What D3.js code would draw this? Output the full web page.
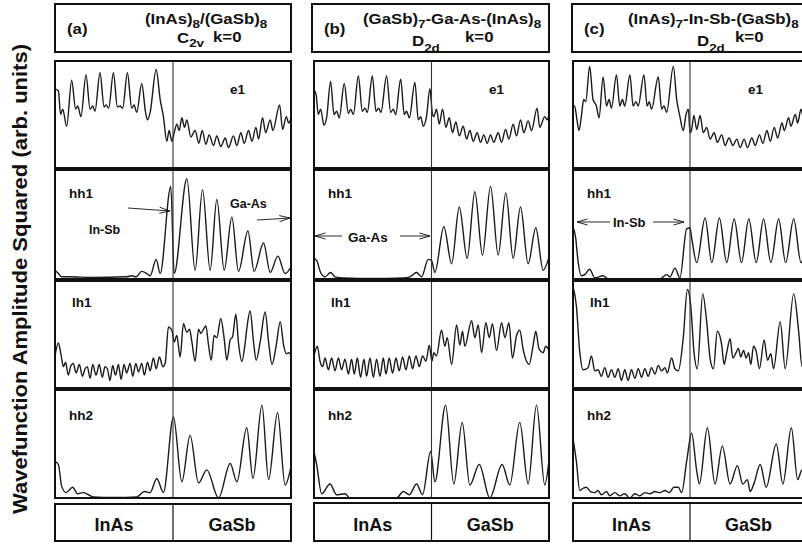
<!DOCTYPE html>
<html>
<head>
<meta charset="utf-8">
<script src="https://cdn.jsdelivr.net/npm/d3@7"></script>
<style>
  body { margin: 0; background: #fff; }
  text { font-family: "Liberation Sans", Arial, Helvetica, sans-serif; font-weight: bold; fill: #111; }
</style>
</head>
<body>
<svg id="chart" width="802" height="544"></svg>
<script>
// Squared envelope functions along one superlattice period.
// Each point: [position in monolayers (0-8 InAs, 8-16 GaSb), squared amplitude (arb.)]

// (a) (InAs)8/(GaSb)8, C2v
const aE1 = [[0,.74],[.23,.72],[.38,.50],[.52,.55],[.79,.39],[1.13,.82],[1.40,.55],[1.54,.58],[1.76,.48],[2.10,.87],[2.38,.55],[2.56,.58],[2.71,.53],[3.05,.89],[3.33,.57],[3.46,.59],[3.64,.56],[3.96,.89],[4.23,.57],[4.41,.58],[4.59,.56],[4.91,.89],[5.20,.56],[5.36,.59],[5.54,.52],[5.88,.79],[6.13,.53],[6.27,.45],[6.45,.52],[6.86,.92],[7.13,.64],[7.35,.48],[7.58,.25],[7.74,.35],[7.92,.25],[8.08,.33],[8.26,.41],[8.42,.35],[8.60,.47],[8.78,.38],[8.94,.45],[9.21,.29],[9.50,.35],[9.75,.23],[9.98,.35],[10.23,.22],[10.45,.31],[10.75,.21],[10.97,.30],[11.24,.20],[11.54,.28],[11.76,.19],[12.10,.30],[12.33,.21],[12.60,.33],[12.83,.23],[13.12,.35],[13.35,.25],[13.62,.38],[13.80,.27],[14.07,.47],[14.28,.33],[14.59,.45],[14.77,.35],[15.23,.59],[15.43,.36],[15.68,.48],[15.84,.42],[16,.47]];
const aHH1 = [[0,.08],[.23,.05],[.45,.02],[1.0,.02],[2.5,.015],[4.86,.02],[5.2,.03],[5.5,.02],[5.88,.07],[6.22,.05],[6.45,.03],[6.86,.18],[7.13,.05],[7.85,.85],[8.08,.05],[8.94,.92],[9.5,.08],[10.0,.82],[10.52,.08],[10.97,.73],[11.47,.08],[11.99,.57],[12.44,.07],[13.08,.44],[13.5,.07],[14.14,.33],[14.59,.06],[15.11,.21],[15.6,.05],[16,.11]];
const aLH1 = [[0,.30],[.23,.42],[.41,.31],[.57,.20],[.72,.24],[.9,.12],[1.06,.2],[1.24,.23],[1.43,.14],[1.65,.22],[1.86,.11],[2.04,.18],[2.19,.2],[2.38,.09],[2.56,.22],[2.78,.12],[3.0,.22],[3.21,.1],[3.39,.2],[3.55,.18],[3.73,.07],[3.91,.21],[4.1,.12],[4.3,.22],[4.48,.08],[4.68,.22],[4.86,.14],[5.09,.23],[5.27,.11],[5.48,.23],[5.66,.15],[5.88,.23],[6.06,.12],[6.27,.24],[6.45,.16],[6.67,.28],[6.86,.18],[7.08,.29],[7.31,.2],[7.47,.23],[7.69,.57],[7.92,.54],[8.08,.43],[8.26,.49],[8.48,.29],[8.71,.6],[8.94,.52],[9.12,.55],[9.28,.43],[9.5,.25],[9.73,.55],[9.89,.51],[10.07,.55],[10.23,.58],[10.41,.4],[10.59,.26],[10.79,.49],[10.97,.47],[11.24,.65],[11.47,.46],[11.65,.26],[11.88,.45],[12.04,.48],[12.26,.69],[12.44,.42],[12.67,.25],[12.9,.43],[13.0,.55],[13.23,.72],[13.46,.43],[13.64,.26],[13.91,.43],[14.25,.71],[14.48,.43],[14.71,.22],[15.0,.4],[15.27,.62],[15.5,.4],[15.68,.32],[15.84,.33],[16,.31]];
const aHH2 = [[0,.34],[.23,.31],[.45,.11],[.75,.05],[1.2,.1],[1.52,.04],[1.92,.05],[2.26,.03],[2.6,.01],[4.0,.005],[5.54,.01],[6.06,.06],[6.45,.05],[6.9,.18],[7.35,.05],[8.03,.75],[8.6,.15],[9.16,.58],[9.73,.14],[10.29,.26],[11.09,0],[11.88,.32],[12.33,.15],[13.0,.65],[13.42,.18],[14.03,.86],[14.48,.17],[15.09,.79],[15.6,.12],[16,.29]];

// (b) (GaSb)7-Ga-As-(InAs)8, D2d
const bE1 = [[0,.73],[.14,.69],[.29,.5],[.45,.55],[.68,.4],[.86,.47],[1.13,.81],[1.36,.5],[1.54,.53],[1.72,.47],[2.06,.79],[2.34,.51],[2.49,.55],[2.68,.5],[3.02,.86],[3.29,.53],[3.47,.56],[3.63,.52],[3.97,.86],[4.22,.53],[4.4,.56],[4.56,.52],[4.94,.86],[5.22,.52],[5.4,.55],[5.56,.5],[5.9,.83],[6.15,.5],[6.3,.53],[6.49,.47],[6.87,.8],[7.1,.45],[7.26,.48],[7.44,.39],[7.66,.48],[7.89,.74],[8.07,.5],[8.16,.48],[8.34,.55],[8.53,.41],[8.75,.55],[8.98,.38],[9.21,.47],[9.43,.33],[9.66,.43],[9.89,.3],[10.16,.39],[10.39,.27],[10.61,.35],[10.84,.25],[11.11,.33],[11.34,.24],[11.56,.31],[11.79,.23],[12.02,.31],[12.24,.24],[12.54,.33],[12.77,.24],[13.04,.36],[13.27,.27],[13.56,.41],[13.79,.3],[14.06,.45],[14.29,.33],[14.58,.44],[14.81,.35],[15.19,.56],[15.37,.38],[15.71,.48],[15.87,.45],[16,.5]];
const bHH1 = [[0,.19],[.18,.17],[.45,.06],[.75,.02],[1.13,.06],[1.43,.02],[2.0,.01],[4.0,.005],[6.08,.01],[6.53,.02],[6.98,.06],[7.32,.02],[7.78,.18],[8.0,.17],[8.23,.06],[8.84,.48],[9.37,.14],[9.89,.66],[10.43,.19],[10.95,.8],[11.47,.22],[12.02,.85],[12.54,.22],[13.06,.79],[13.56,.19],[14.06,.66],[14.58,.14],[15.1,.47],[15.6,.08],[16,.2]];
const bLH1 = [[0,.30],[.23,.39],[.41,.25],[.59,.2],[.75,.28],[.98,.17],[1.2,.28],[1.43,.16],[1.66,.28],[1.88,.17],[2.11,.27],[2.34,.13],[2.56,.27],[2.74,.13],[2.95,.28],[3.17,.1],[3.4,.27],[3.58,.11],[3.81,.28],[4.04,.1],[4.26,.27],[4.49,.11],[4.72,.28],[4.9,.13],[5.12,.28],[5.35,.14],[5.58,.28],[5.8,.16],[6.03,.29],[6.26,.17],[6.49,.3],[6.71,.18],[6.94,.3],[7.17,.2],[7.39,.3],[7.62,.25],[7.85,.4],[8.03,.25],[8.16,.33],[8.34,.3],[8.68,.54],[8.91,.39],[9.07,.47],[9.37,.22],[9.71,.59],[9.93,.4],[10.11,.53],[10.27,.39],[10.73,.63],[10.95,.47],[11.18,.59],[11.41,.33],[11.7,.61],[11.93,.47],[12.15,.6],[12.43,.35],[12.77,.61],[13.0,.47],[13.27,.61],[13.51,.28],[13.79,.49],[14.01,.54],[14.24,.36],[14.65,.22],[14.92,.4],[15.1,.53],[15.33,.36],[15.6,.33],[15.78,.39],[16,.35]];
const bHH2 = [[0,.43],[.18,.31],[.52,.04],[1.09,.13],[1.54,.03],[2.11,.04],[2.45,0],[4.0,0],[5.62,0],[6.08,.06],[6.49,.03],[6.98,.13],[7.39,.03],[7.94,.43],[8.23,.15],[8.96,.86],[9.52,.13],[10.09,.7],[10.61,.12],[11.25,.31],[11.97,0],[12.81,.31],[13.33,.12],[14.01,.7],[14.58,.13],[15.15,.86],[15.71,.12],[16,.35]];

// (c) (InAs)7-In-Sb-(GaSb)8, D2d
const cE1 = [[0,.58],[.11,.58],[.27,.45],[.41,.35],[.57,.48],[.73,.64],[.87,.62],[1.14,.95],[1.37,.64],[1.6,.58],[1.78,.47],[2.06,.85],[2.29,.58],[2.47,.64],[2.63,.56],[2.97,.87],[3.2,.58],[3.38,.64],[3.54,.58],[3.89,.87],[4.11,.58],[4.3,.62],[4.46,.58],[4.85,.87],[5.07,.58],[5.21,.62],[5.37,.55],[5.83,.85],[6.06,.55],[6.22,.58],[6.4,.52],[6.86,.95],[7.09,.64],[7.31,.48],[7.54,.35],[7.73,.5],[7.89,.55],[8.0,.33],[8.11,.36],[8.27,.49],[8.46,.36],[8.69,.49],[8.91,.33],[9.14,.38],[9.37,.27],[9.65,.33],[9.87,.24],[10.17,.31],[10.4,.21],[10.67,.28],[10.93,.21],[11.2,.27],[11.43,.19],[11.7,.27],[11.93,.19],[12.23,.28],[12.46,.21],[12.75,.31],[12.98,.23],[13.26,.35],[13.49,.25],[13.76,.38],[13.99,.28],[14.29,.42],[14.45,.35],[14.74,.47],[14.9,.39],[15.2,.5],[15.36,.42],[15.59,.55],[15.8,.45],[16,.55]];
const cHH1 = [[0,.48],[.18,.38],[.34,.17],[.57,.03],[.8,.04],[1.14,.09],[1.49,.01],[2.06,.03],[2.4,0],[4.0,0],[5.94,0],[6.4,.04],[6.63,.02],[6.97,.1],[7.31,.01],[7.77,.46],[8.0,.47],[8.11,.38],[8.46,.15],[9.03,.56],[9.49,.15],[10.01,.56],[10.51,.15],[11.02,.55],[11.52,.15],[12.02,.55],[12.53,.15],[13.03,.55],[13.53,.15],[14.06,.55],[14.54,.15],[15.09,.55],[15.59,.15],[16,.41]];
const cLH1 = [[0,.95],[.23,.77],[.46,.34],[.69,.17],[1.03,.19],[1.26,.3],[1.49,.16],[1.71,.17],[1.94,.11],[2.17,.19],[2.4,.1],[2.63,.17],[2.86,.1],[3.09,.18],[3.31,.07],[3.54,.17],[3.77,.07],[4.0,.17],[4.23,.09],[4.46,.18],[4.69,.1],[4.91,.18],[5.14,.11],[5.37,.19],[5.6,.13],[5.83,.21],[6.06,.16],[6.29,.19],[6.45,.14],[6.74,.28],[6.97,.18],[7.2,.16],[7.54,.47],[7.82,.92],[8.05,.77],[8.27,.34],[8.5,.18],[8.87,.88],[9.14,.62],[9.37,.28],[9.6,.18],[9.87,.53],[10.17,.4],[10.33,.22],[10.51,.33],[10.74,.46],[10.93,.28],[11.15,.33],[11.31,.37],[11.47,.29],[11.66,.35],[11.84,.28],[12.0,.33],[12.16,.22],[12.34,.39],[12.53,.34],[12.75,.18],[13.07,.45],[13.3,.26],[13.53,.32],[13.71,.18],[14.17,.62],[14.51,.18],[15.09,.88],[15.43,.53],[15.66,.2],[15.89,.37],[16,.4]];
const cHH2 = [[0,.55],[.23,.34],[.46,.07],[.69,.09],[.91,.1],[1.19,.06],[1.49,.05],[1.71,.07],[1.94,.03],[2.29,.06],[2.51,.02],[2.86,.05],[3.2,.02],[3.54,.04],[3.89,0],[4.23,.04],[4.57,.02],[4.91,.05],[5.26,.04],[5.6,.06],[5.94,.05],[6.29,.07],[6.58,.05],[6.9,.1],[7.2,.1],[7.43,.05],[7.77,.34],[8.11,.6],[8.46,.25],[8.64,.13],[9.19,.65],[9.71,.13],[10.21,.48],[10.74,.13],[11.24,.3],[11.61,.13],[11.93,.17],[12.11,.06],[12.39,.14],[12.8,.31],[13.21,.1],[13.9,.5],[14.35,.13],[14.93,.65],[15.36,.17],[15.66,.26],[16,.2]];

const states = ["e1", "hh1", "lh1", "hh2"];
const layers = ["InAs", "GaSb"];
const panelTags = ["(a)", "(b)", "(c)"];
// structure names: [text, isSubscript]
const structureNames = [
  [["(InAs)", 0], ["8", 1], ["/(GaSb)", 0], ["8", 1]],
  [["(GaSb)", 0], ["7", 1], ["-Ga-As-(InAs)", 0], ["8", 1]],
  [["(InAs)", 0], ["7", 1], ["-In-Sb-(GaSb)", 0], ["8", 1]]
];
const symmetries = [[["C", 0], ["2v", 1]], [["D", 0], ["2d", 1]], [["D", 0], ["2d", 1]]];
const waveSeries = [
  [aE1, aHH1, aLH1, aHH2],
  [bE1, bHH1, bLH1, bHH2],
  [cE1, cHH1, cLH1, cHH2]
];
const yTitle = "Wavefunction Amplitude Squared (arb. units)";

// ---- layout ----
const svg = d3.select("#chart");
const colLeft = [55, 314, 573];
const colWidth = [236, 235, 234];
const headerLeft = [55, 312, 572];
const headerWidth = [236, 237, 236];
const rows = [[61, 168], [170, 279], [281, 388], [390, 498]];
const headerY = [4, 52];
const footerY = [[504, 541], [503, 541], [503, 541]];
const ink = "#111";

function rich(g, parts, x, y, size, sx, subDrop) {
  const t = g.append("text")
    .attr("transform", `translate(${x},${y}) scale(${sx},1)`)
    .attr("font-size", size);
  let cur = 0;
  parts.forEach(([s, sub]) => {
    const target = sub ? subDrop : 0;
    t.append("tspan")
      .attr("dy", target - cur)
      .attr("font-size", sub ? size * 0.8 : size)
      .text(s);
    cur = target;
  });
  return t;
}

function arrow(g, x1, y1, x2, y2) {
  g.append("line").attr("x1", x1).attr("y1", y1).attr("x2", x2).attr("y2", y2)
    .attr("stroke", ink).attr("stroke-width", 0.9);
  const ang = Math.atan2(y2 - y1, x2 - x1), L = 11, spread = 0.28;
  [ang + Math.PI - spread, ang + Math.PI + spread].forEach(a => {
    g.append("line").attr("x1", x2).attr("y1", y2)
      .attr("x2", x2 + L * Math.cos(a)).attr("y2", y2 + L * Math.sin(a))
      .attr("stroke", ink).attr("stroke-width", 0.9);
  });
}

// y-axis title
svg.append("text")
  .attr("transform", "translate(27,279) rotate(-90)")
  .attr("text-anchor", "middle")
  .attr("font-size", 20)
  .attr("textLength", 470)
  .attr("lengthAdjust", "spacingAndGlyphs")
  .text(yTitle);

const defs = svg.append("defs");

waveSeries.forEach((series, c) => {
  const g = svg.append("g");
  const left = colLeft[c], width = colWidth[c];
  const x = d3.scaleLinear().domain([0, 16]).range([left, left + width]);

  // header box
  g.append("rect").attr("x", headerLeft[c]).attr("y", headerY[0])
    .attr("width", headerWidth[c]).attr("height", headerY[1] - headerY[0])
    .attr("fill", "none").attr("stroke", ink).attr("stroke-width", 2);
  rich(g, [[panelTags[c], 0]], headerLeft[c] + 12, 34, 14, 1.2, 0);
  const nameX = [145, 363, 628][c];
  rich(g, structureNames[c], nameX, 24, 14, 1.2, 4);
  const symX = [177, 412, 697][c];
  const symY = [43, 46, 46][c];
  rich(g, symmetries[c], symX, symY, 14, 1.2, c === 0 ? 4 : 6);
  const kX = [213, 465, 735][c];
  rich(g, [["k=0", 0]], kX, 42, 14, 1.2, 0);

  series.forEach((pts, r) => {
    const [top, bottom] = rows[r];
    const y = d3.scaleLinear().domain([0, 1]).range([bottom, top]);
    const clipId = `clip-${c}-${r}`;
    defs.append("clipPath").attr("id", clipId)
      .append("rect").attr("x", left).attr("y", top)
      .attr("width", width).attr("height", bottom - top);

    const line = d3.line()
      .x(d => x(d[0])).y(d => y(d[1]))
      .curve(d3.curveMonotoneX);

    g.append("path").datum(pts)
      .attr("d", line)
      .attr("clip-path", `url(#${clipId})`)
      .attr("fill", "none").attr("stroke", "#1a1a1a")
      .attr("stroke-width", 1.4).attr("stroke-linejoin", "round");

    // interface between the two layers
    g.append("line").attr("x1", x(8)).attr("x2", x(8))
      .attr("y1", top).attr("y2", bottom)
      .attr("stroke", "#333").attr("stroke-width", 1.1);

    g.append("rect").attr("x", left).attr("y", top)
      .attr("width", width).attr("height", bottom - top)
      .attr("fill", "none").attr("stroke", ink).attr("stroke-width", 2);

    const lx = r === 0 ? left + 175 : left + (r === 2 ? 17 : 14);
    const ly = [94, 198, 307, 420][r];
    g.append("text").attr("x", lx).attr("y", ly).attr("font-size", 13.5).text(states[r]);
  });

  // footer with layer names
  const [fTop, fBot] = footerY[c];
  g.append("rect").attr("x", left).attr("y", fTop)
    .attr("width", width).attr("height", fBot - fTop)
    .attr("fill", "none").attr("stroke", ink).attr("stroke-width", 2);
  g.append("line").attr("x1", x(8)).attr("x2", x(8)).attr("y1", fTop).attr("y2", fBot)
    .attr("stroke", ink).attr("stroke-width", 1.2);
  layers.forEach((name, i) => {
    g.append("text").attr("x", x(4 + 8 * i)).attr("y", fBot - 10)
      .attr("text-anchor", "middle").attr("font-size", 18).text(name);
  });
});

// bond annotations in the hh1 panels
const ann = svg.append("g");
ann.append("text").attr("x", 89).attr("y", 234).attr("font-size", 12.5).text("In-Sb");
ann.append("text").attr("x", 230).attr("y", 208).attr("font-size", 12.5).text("Ga-As");
arrow(ann, 128, 208, 170, 211);
arrow(ann, 257, 220, 290, 218);

ann.append("text").attr("x", 348).attr("y", 242).attr("font-size", 13.5).text("Ga-As");
arrow(ann, 342, 236, 315, 236);
arrow(ann, 400, 236, 430, 236);

ann.append("text").attr("x", 613).attr("y", 227).attr("font-size", 13).text("In-Sb");
arrow(ann, 610, 222, 577, 222);
arrow(ann, 653, 222, 684, 222);
</script>
</body>
</html>
